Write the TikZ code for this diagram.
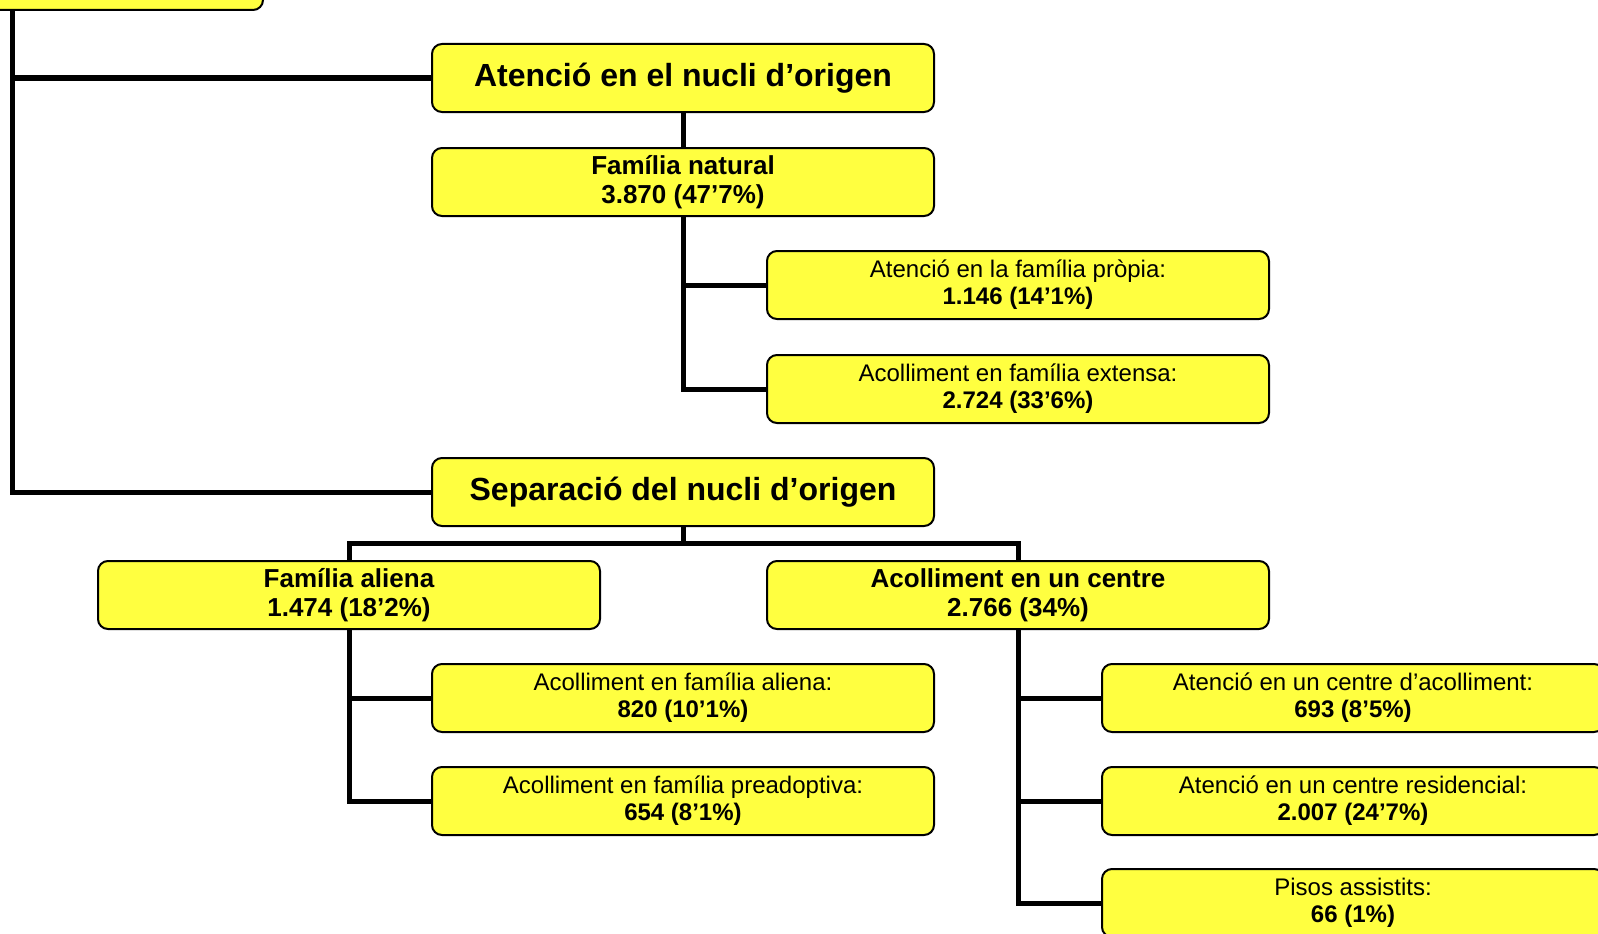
\documentclass[tikz,border=0pt]{standalone}
\usepackage{fontspec}
\setmainfont{Liberation Sans}
\usetikzlibrary{positioning}

\definecolor{boxyellow}{RGB}{255,255,64}

\tikzset{
  box/.style={draw, line width=2pt, fill=boxyellow, rounded corners=10pt,
    minimum width=502pt, minimum height=68pt, inner sep=0pt, align=center},
  title/.style={box, font=\bfseries\fontsize{32}{36}\selectfont},
  group/.style={box, font=\bfseries\fontsize{26}{29}\selectfont},
  leaf/.style={box, font=\fontsize{24}{27}\selectfont},
  link/.style={line width=5pt}
}

\begin{document}
\begin{tikzpicture}[x=1pt, y=-1pt]
\useasboundingbox (0,0) rectangle (1598,934);
\clip (0,0) rectangle (1598,934);

% Root (cut at the top)
\node[box] (root) at (12,-24) {};

% Atencio en el nucli d'origen
\node[title] (aten) at (683,78) {Atenció en el nucli d’origen};
\node[group] (famnat) at (683,182) {Família natural\\3.870 (47’7\%)};
\node[leaf] (propia) at (1018,285) {Atenció en la família pròpia:\\\textbf{1.146 (14’1\%)}};
\node[leaf] (extensa) at (1018,389) {Acolliment en família extensa:\\\textbf{2.724 (33’6\%)}};

% Separacio del nucli d'origen
\node[title] (sep) at (683,492) {Separació del nucli d’origen};
\node[group] (aliena) at (349,595) {Família aliena\\1.474 (18’2\%)};
\node[group] (centre) at (1018,595) {Acolliment en un centre\\2.766 (34\%)};
\node[leaf] (acalien) at (683,698) {Acolliment en família aliena:\\\textbf{820 (10’1\%)}};
\node[leaf] (preadopt) at (683,801) {Acolliment en família preadoptiva:\\\textbf{654 (8’1\%)}};
\node[leaf] (dacoll) at (1353,698) {Atenció en un centre d’acolliment:\\\textbf{693 (8’5\%)}};
\node[leaf] (resid) at (1353,801) {Atenció en un centre residencial:\\\textbf{2.007 (24’7\%)}};
\node[leaf] (pisos) at (1353,903) {Pisos assistits:\\\textbf{66 (1\%)}};

% Connectors
\draw[link] (root.south) |- (aten.west);
\draw[link] (root.south) |- (sep.west);
\draw[link] (aten) -- (famnat);
\draw[link] (famnat.south) |- (propia.west);
\draw[link] (famnat.south) |- (extensa.west);
\draw[link] (sep.south) -- ++(0,16) coordinate (bus) -| (aliena.north);
\draw[link] (bus) -| (centre.north);
\draw[link] (aliena.south) |- (acalien.west);
\draw[link] (aliena.south) |- (preadopt.west);
\draw[link] (centre.south) |- (dacoll.west);
\draw[link] (centre.south) |- (resid.west);
\draw[link] (centre.south) |- (pisos.west);
\end{tikzpicture}
\end{document}
